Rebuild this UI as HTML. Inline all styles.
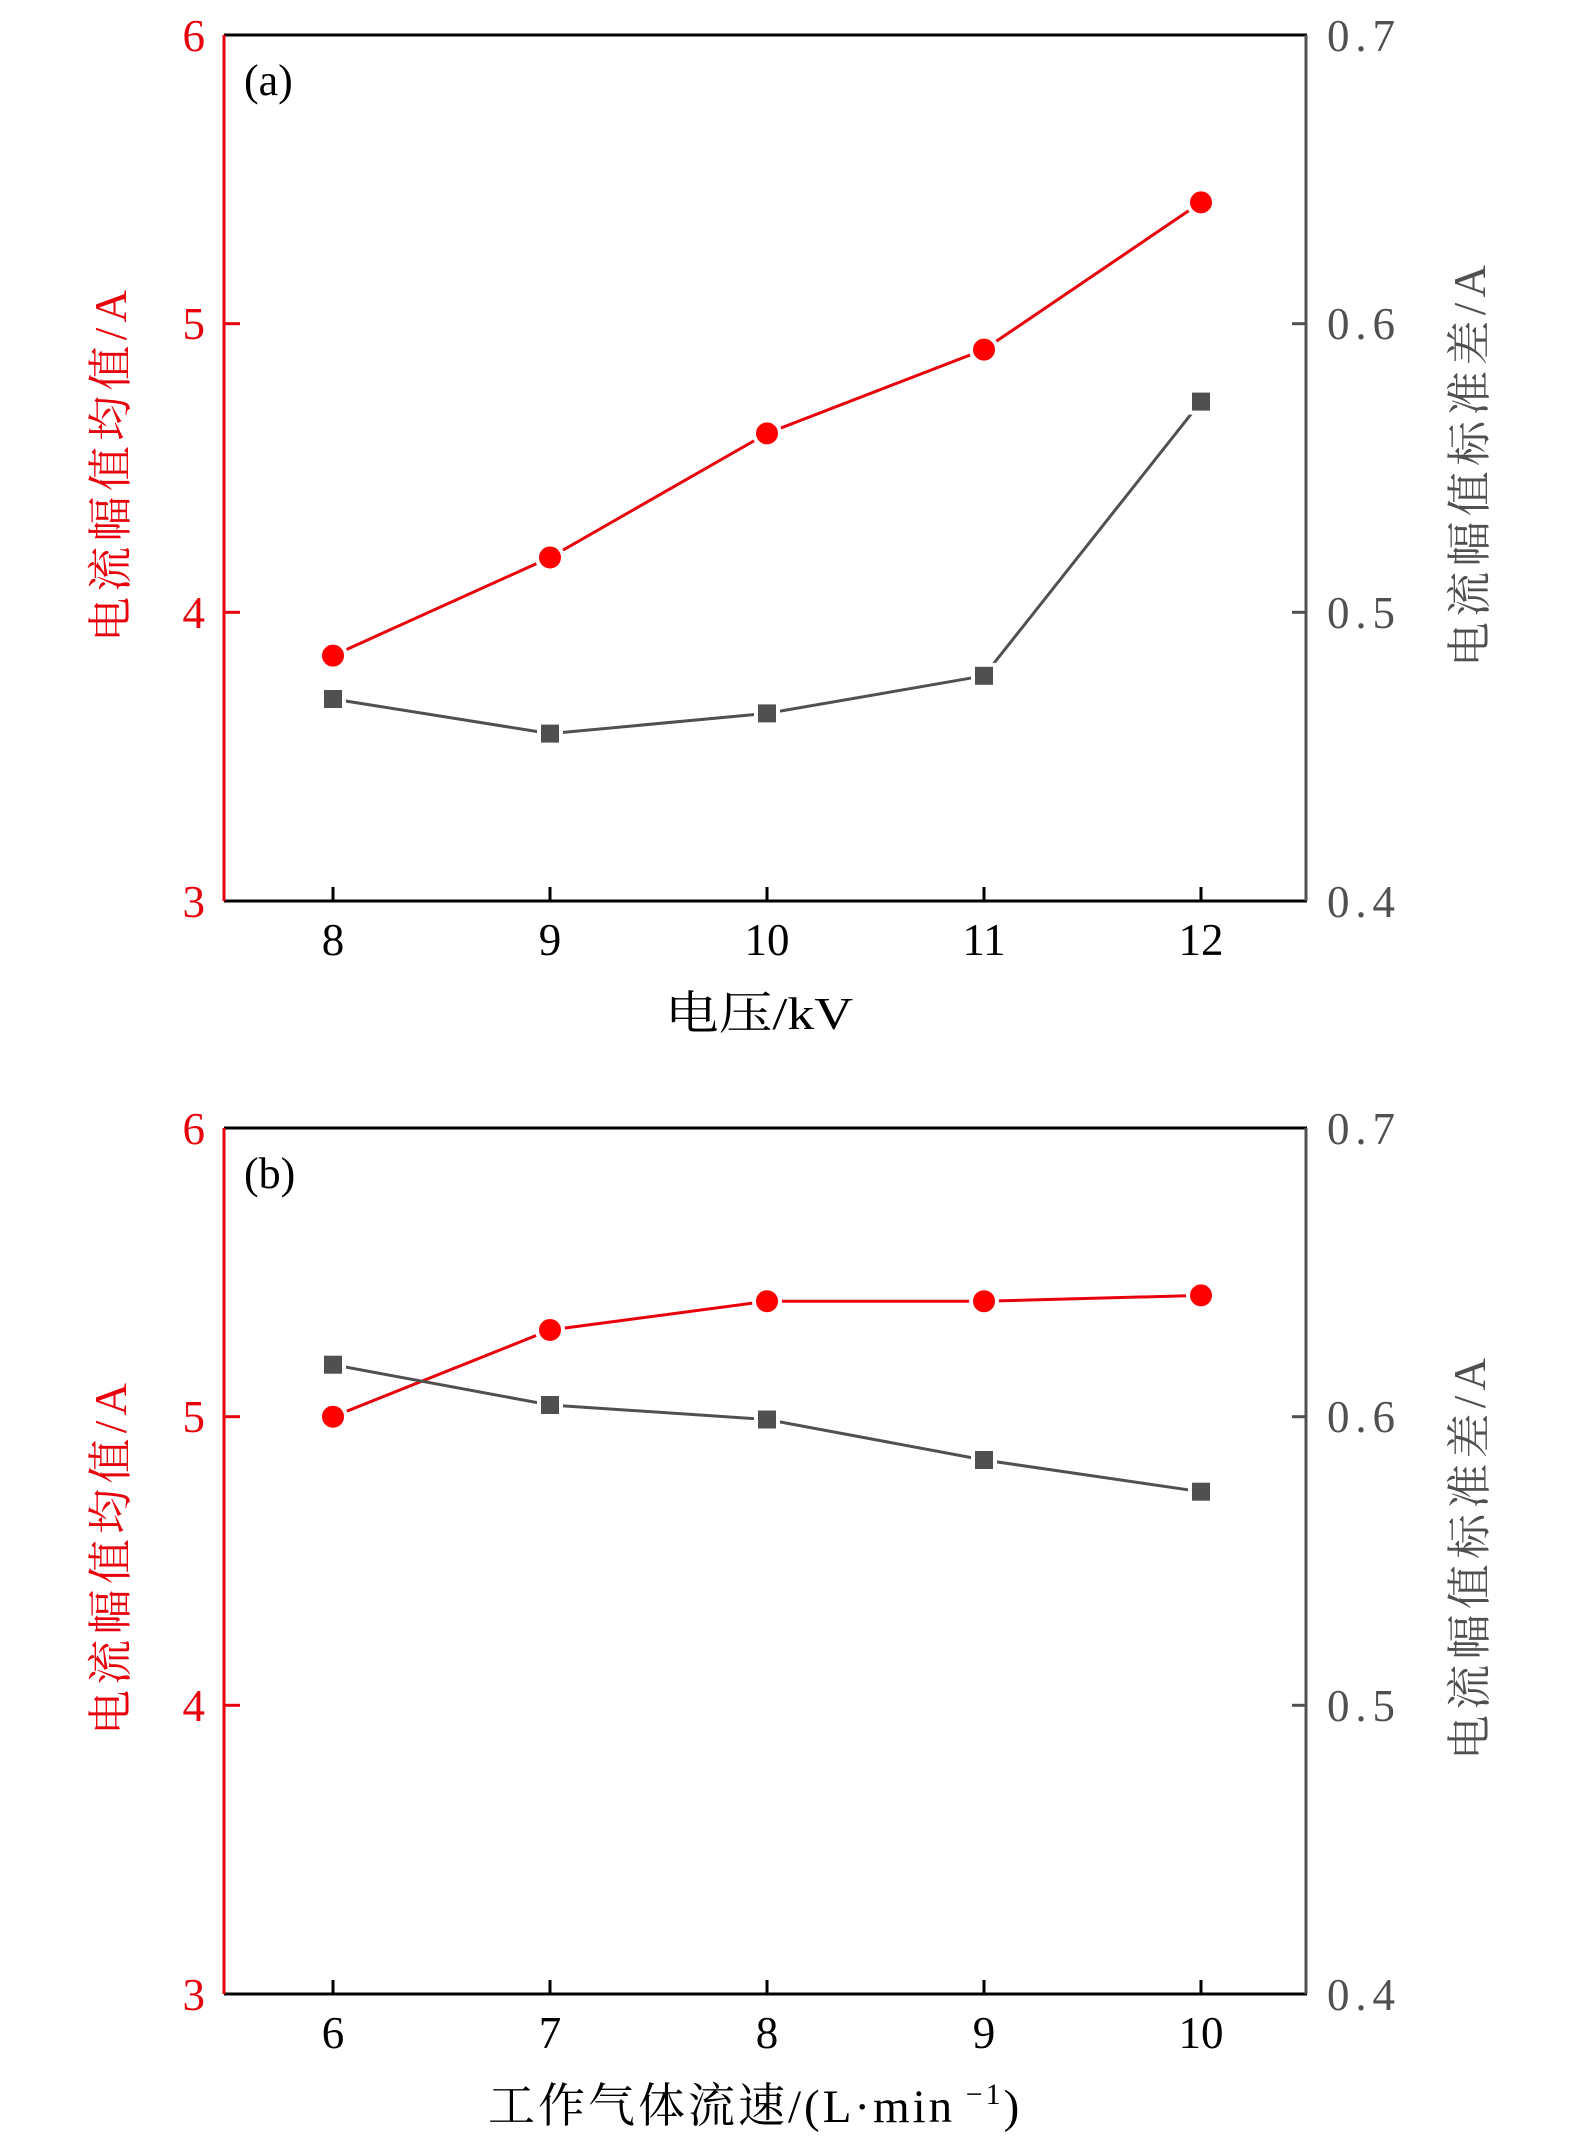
<!DOCTYPE html>
<html><head><meta charset="utf-8"><style>
html,body{margin:0;padding:0;background:#fff;}
svg{display:block;}
text{font-family:"Liberation Serif","Noto Serif CJK SC",serif;}
</style></head><body>
<svg width="1575" height="2146" viewBox="0 0 1575 2146" xmlns="http://www.w3.org/2000/svg">
<defs>
<g id="frame">
  <line x1="224" y1="35" x2="1307" y2="35" stroke="#000" stroke-width="3"/>
  <line x1="224" y1="901" x2="1307" y2="901" stroke="#000" stroke-width="3"/>
  <line x1="224" y1="35" x2="224" y2="901" stroke="#e8000b" stroke-width="3"/>
  <line x1="1306" y1="35" x2="1306" y2="901" stroke="#505050" stroke-width="3"/>
  <g stroke="#e8000b" stroke-width="3">
    <line x1="224" y1="612.3" x2="240" y2="612.3"/>
    <line x1="224" y1="323.7" x2="240" y2="323.7"/>
  </g>
  <g stroke="#505050" stroke-width="3">
    <line x1="1292" y1="612.3" x2="1306" y2="612.3"/>
    <line x1="1292" y1="323.7" x2="1306" y2="323.7"/>
  </g>
  <g stroke="#000" stroke-width="3">
    <line x1="333" y1="887" x2="333" y2="901"/>
    <line x1="550" y1="887" x2="550" y2="901"/>
    <line x1="767" y1="887" x2="767" y2="901"/>
    <line x1="984" y1="887" x2="984" y2="901"/>
    <line x1="1201" y1="887" x2="1201" y2="901"/>
  </g>
  <g font-size="45" fill="#e8000b" text-anchor="end">
    <text x="205" y="51">6</text>
    <text x="205" y="339">5</text>
    <text x="205" y="628">4</text>
    <text x="205" y="917">3</text>
  </g>
  <g font-size="45" fill="#505050">
    <text x="1327" y="51" textLength="68" lengthAdjust="spacing">0.7</text>
    <text x="1327" y="339" textLength="68" lengthAdjust="spacing">0.6</text>
    <text x="1327" y="628" textLength="68" lengthAdjust="spacing">0.5</text>
    <text x="1327" y="917" textLength="68" lengthAdjust="spacing">0.4</text>
  </g>
  <text transform="translate(126,642) rotate(-90)" font-size="45" fill="#e8000b" textLength="352" lengthAdjust="spacing">电流幅值均值/A</text>
  <text transform="translate(1485,667) rotate(-90)" font-size="45" fill="#505050" textLength="402" lengthAdjust="spacing">电流幅值标准差/A</text>
</g>
</defs>

<!-- Panel a -->
<use href="#frame"/>
<text x="244" y="95" font-size="44" fill="#000">(a)</text>
<g font-size="45" fill="#000" text-anchor="middle">
  <text x="333" y="955">8</text><text x="550" y="955">9</text><text x="767" y="955">10</text><text x="984" y="955">11</text><text x="1201" y="955">12</text>
</g>
<text x="665" y="1029" font-size="46" fill="#000" textLength="188" lengthAdjust="spacingAndGlyphs">电压/kV</text>
<polyline points="333,655.6 550,557.5 767,433.4 984,349.6 1201,202.4" fill="none" stroke="#e8000b" stroke-width="3"/>
<polyline points="333,699 550,733.6 767,713.4 984,675.8 1201,401.6" fill="none" stroke="#505050" stroke-width="3"/>
<g fill="#ff0000" stroke="#fff" stroke-width="4">
  <circle cx="333" cy="655.6" r="13"/><circle cx="550" cy="557.5" r="13"/><circle cx="767" cy="433.4" r="13"/><circle cx="984" cy="349.6" r="13"/><circle cx="1201" cy="202.4" r="13"/>
</g>
<g fill="#505050" stroke="#fff" stroke-width="4">
  <rect x="322" y="688" width="22" height="22"/><rect x="539" y="722.6" width="22" height="22"/><rect x="756" y="702.4" width="22" height="22"/><rect x="973" y="664.8" width="22" height="22"/><rect x="1190" y="390.6" width="22" height="22"/>
</g>

<!-- Panel b -->
<use href="#frame" transform="translate(0,1093)"/>
<text x="244" y="1188" font-size="44" fill="#000">(b)</text>
<g font-size="45" fill="#000" text-anchor="middle">
  <text x="333" y="2048">6</text><text x="550" y="2048">7</text><text x="767" y="2048">8</text><text x="984" y="2048">9</text><text x="1201" y="2048">10</text>
</g>
<text x="488" y="2122" font-size="47" fill="#000" letter-spacing="3">工作气体流速/(L·min<tspan dy="-18" font-size="30"> −1</tspan><tspan dy="18">)</tspan></text>
<polyline points="333,1416.7 550,1330 767,1301.2 984,1301.2 1201,1295.4" fill="none" stroke="#e8000b" stroke-width="3"/>
<polyline points="333,1364.7 550,1405 767,1419.5 984,1460 1201,1491.7" fill="none" stroke="#505050" stroke-width="3"/>
<g fill="#ff0000" stroke="#fff" stroke-width="4">
  <circle cx="333" cy="1416.7" r="13"/><circle cx="550" cy="1330" r="13"/><circle cx="767" cy="1301.2" r="13"/><circle cx="984" cy="1301.2" r="13"/><circle cx="1201" cy="1295.4" r="13"/>
</g>
<g fill="#505050" stroke="#fff" stroke-width="4">
  <rect x="322" y="1353.7" width="22" height="22"/><rect x="539" y="1394" width="22" height="22"/><rect x="756" y="1408.5" width="22" height="22"/><rect x="973" y="1449" width="22" height="22"/><rect x="1190" y="1480.7" width="22" height="22"/>
</g>
</svg>
</body></html>
